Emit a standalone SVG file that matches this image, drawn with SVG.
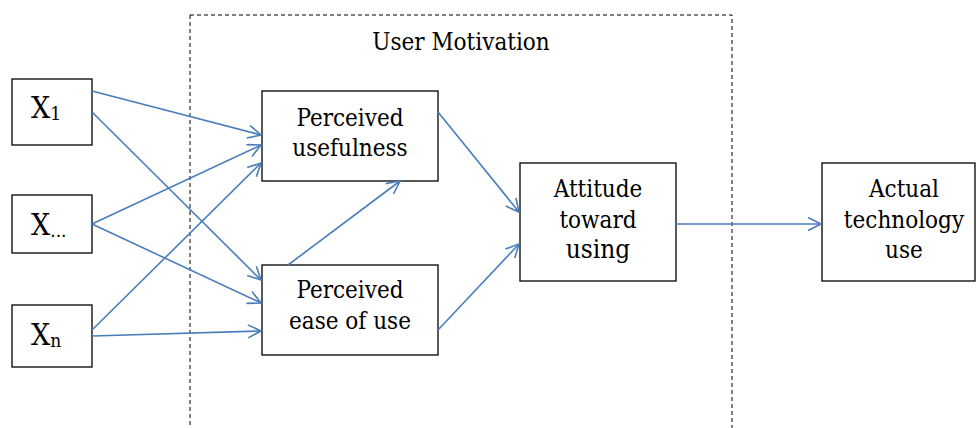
<svg xmlns="http://www.w3.org/2000/svg" width="976" height="428" viewBox="0 0 976 428">
<style>
.box{fill:#fff;stroke:#000;stroke-width:1.3}
.t{font-family:"DejaVu Serif Condensed","DejaVu Serif",serif;font-stretch:condensed;font-size:24px;fill:#000;text-anchor:middle}
.x{font-family:"DejaVu Serif Condensed","DejaVu Serif",serif;font-stretch:condensed;font-size:30px;fill:#000}
.s{font-size:19px}
.c{fill:none;stroke:#4a7ebb;stroke-width:1.6}
</style>
<defs>
<marker id="ah" markerWidth="16" markerHeight="16" refX="14" refY="7" orient="auto" markerUnits="userSpaceOnUse">
<path d="M1,0.5 L14,7 L1,13.5" fill="none" stroke="#4a7ebb" stroke-width="1.6"/>
</marker>
</defs>
<rect width="976" height="428" fill="#fff"/>
<g id="user-motivation">
<rect x="190" y="15" width="542" height="440" fill="none" stroke="#000" stroke-width="1" stroke-dasharray="4,3"/>
<text class="t" x="461" y="50">User Motivation</text>
</g>
<g id="x1">
<rect class="box" x="12" y="79" width="80" height="66"/>
<text class="x" x="31" y="118">X<tspan class="s" dy="2">1</tspan></text>
</g>
<g id="xdots">
<rect class="box" x="12" y="195" width="80" height="58"/>
<text class="x" x="31" y="235">X<tspan class="s" dy="2">...</tspan></text>
</g>
<g id="xn">
<rect class="box" x="12" y="305" width="80" height="62"/>
<text class="x" x="31" y="345">X<tspan class="s" dy="2">n</tspan></text>
</g>
<g id="pu">
<rect class="box" x="262" y="91" width="176" height="90"/>
<text class="t" x="350" y="126">Perceived</text>
<text class="t" x="350" y="156">usefulness</text>
</g>
<g id="peou">
<rect class="box" x="262" y="265" width="176" height="90"/>
<text class="t" x="350" y="298">Perceived</text>
<text class="t" x="350" y="329">ease of use</text>
</g>
<g id="attitude">
<rect class="box" x="520" y="163" width="156" height="118"/>
<text class="t" x="598" y="197">Attitude</text>
<text class="t" x="598" y="228">toward</text>
<text class="t" x="598" y="258" style="font-size:26px">using</text>
</g>
<g id="actual">
<rect class="box" x="822" y="163" width="153" height="118"/>
<text class="t" x="904" y="197">Actual</text>
<text class="t" x="904" y="228">technology</text>
<text class="t" x="904" y="258">use</text>
</g>
<g id="connectors">
<line class="c" x1="92" y1="91" x2="261" y2="135" marker-end="url(#ah)"/>
<line class="c" x1="92" y1="112" x2="261" y2="280" marker-end="url(#ah)"/>
<line class="c" x1="92" y1="224" x2="261" y2="145" marker-end="url(#ah)"/>
<line class="c" x1="92" y1="224" x2="261" y2="303" marker-end="url(#ah)"/>
<line class="c" x1="92" y1="330" x2="261" y2="163" marker-end="url(#ah)"/>
<line class="c" x1="92" y1="336" x2="261" y2="331" marker-end="url(#ah)"/>
<line class="c" x1="288" y1="265" x2="400" y2="181" marker-end="url(#ah)"/>
<line class="c" x1="438" y1="112" x2="519" y2="212" marker-end="url(#ah)"/>
<line class="c" x1="438" y1="330" x2="519" y2="244" marker-end="url(#ah)"/>
<line class="c" x1="676" y1="224" x2="821" y2="224" marker-end="url(#ah)"/>
</g>
</svg>
